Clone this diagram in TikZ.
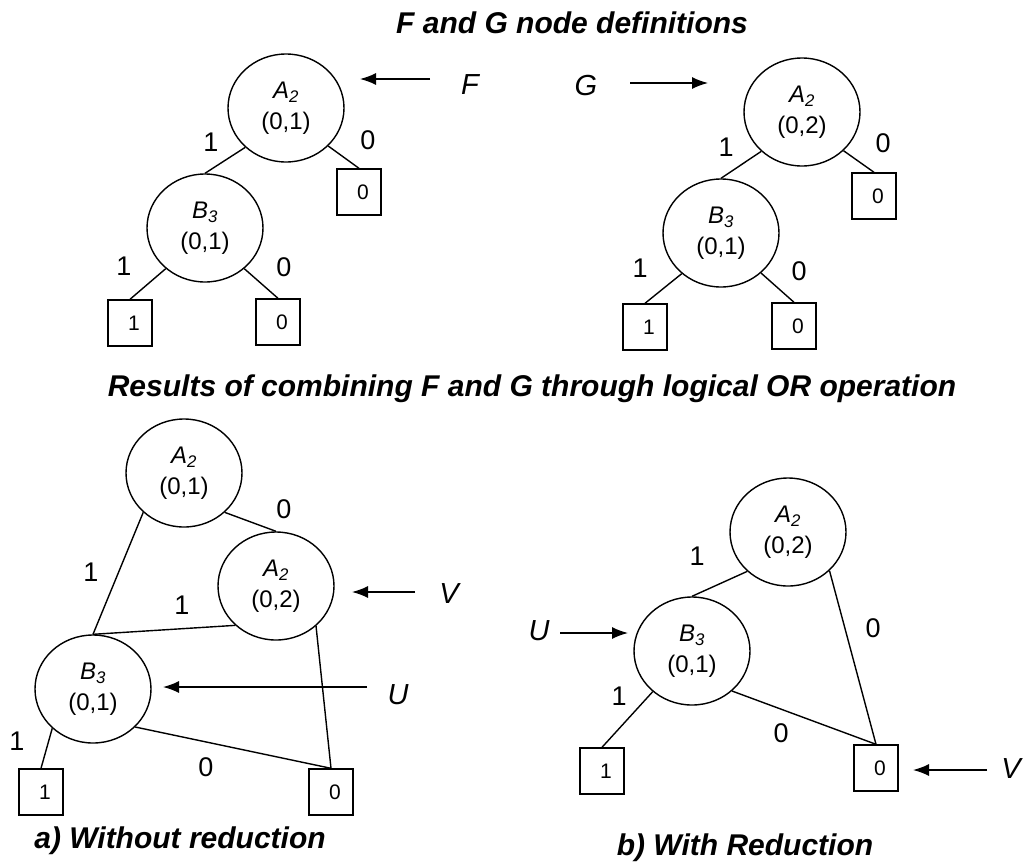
\documentclass[tikz,border=0pt]{standalone}
\usepackage{fontspec}
\setmainfont{Liberation Sans}
\usetikzlibrary{shapes.geometric,arrows.meta}

\tikzset{
  bdd/.style={draw, ellipse, line width=1.4pt, minimum width=116pt, minimum height=108pt,
    inner sep=0pt, align=center, font=\fontsize{24}{31}\selectfont},
  term/.style={draw, rectangle, line width=1.4pt, minimum width=44pt, minimum height=46pt,
    inner sep=0pt, font=\fontsize{21}{24}\selectfont},
  link/.style={line width=1.4pt},
  elabel/.style={inner sep=0pt, font=\fontsize{27}{30}\selectfont},
  ptrtext/.style={inner sep=0pt, anchor=base, font=\fontsize{29}{30}\selectfont\itshape},
  ptr/.style={line width=1.4pt, -{Latex[length=16pt,width=12pt]}},
  heading/.style={inner sep=0pt, anchor=base, font=\fontsize{30}{32}\selectfont\bfseries\itshape}
}
\newcommand{\vlabel}[2]{\textit{#1\textsubscript{#2}}}
\newcommand{\tval}[1]{\hspace*{8pt}#1}

\begin{document}
\begin{tikzpicture}[x=1pt,y=-1pt]
\useasboundingbox[fill=white] (0,0) rectangle (1030,865);

% headings and captions
\node[heading] (h1) at (572,33) {F and G node definitions};
\node[heading] (h2) at (532,396) {Results of combining F and G through logical OR operation};
\node[heading] (capa) at (180,848) {a) Without reduction};
\node[heading] (capb) at (745,855) {b) With Reduction};

% ---- F ----
\node[bdd] (fA) at (286,108) {\vlabel{A}{2}\\(0,1)};
\node[bdd] (fB) at (205,228) {\vlabel{B}{3}\\(0,1)};
\node[term] (fT0a) at (359,192) {\tval{0}};
\node[term] (fT0b) at (278,322) {\tval{0}};
\node[term] (fT1) at (130,323) {\tval{1}};
\draw[link] (fA.224) -- (fB.north);
\draw[link] (fA.318) -- (fT0a.north);
\draw[link] (fB.226) -- (fT1.north);
\draw[link] (fB.314) -- (fT0b.north);
\node[elabel] (fl1) at (211,142) {1};
\node[elabel] (fl2) at (368,140) {0};
\node[elabel] (fl3) at (124,266) {1};
\node[elabel] (fl4) at (284,267) {0};
\node[ptrtext] (F) at (470,94) {F};
\coordinate (fs) at (430,79);
\coordinate (fe) at (360,79);
\draw[ptr] (fs) -- (fe);

% ---- G ----
\node[bdd] (gA) at (802,112) {\vlabel{A}{2}\\(0,2)};
\node[bdd] (gB) at (721,233) {\vlabel{B}{3}\\(0,1)};
\node[term] (gT0a) at (874,196) {\tval{0}};
\node[term] (gT1) at (645,327) {\tval{1}};
\node[term] (gT0b) at (794,326) {\tval{0}};
\draw[link] (gA.224) -- (gB.north);
\draw[link] (gA.317) -- (gT0a.north);
\draw[link] (gB.226) -- (gT1.north);
\draw[link] (gB.315) -- (gT0b.north);
\node[elabel] (gl1) at (726,147) {1};
\node[elabel] (gl2) at (883,143) {0};
\node[elabel] (gl3) at (640,268) {1};
\node[elabel] (gl4) at (799,271) {0};
\node[ptrtext] (G) at (586,95) {G};
\coordinate (gs) at (630,83);
\coordinate (ge) at (708,83);
\draw[ptr] (gs) -- (ge);

% ---- a) without reduction ----
\node[bdd] (aA) at (184,473) {\vlabel{A}{2}\\(0,1)};
\node[bdd] (aA2) at (276,586) {\vlabel{A}{2}\\(0,2)};
\node[bdd] (aB) at (93,689) {\vlabel{B}{3}\\(0,1)};
\node[term] (aT1) at (41,792) {\tval{1}};
\node[term] (aT0) at (331,792) {\tval{0}};
\draw[link] (aA.224) -- (aB.north);
\draw[link] (aA.316) -- (aA2.north);
\draw[link] (aA2.224) -- (aB.north);
\draw[link] (aA2.315) -- (aT0.north);
\draw[link] (aB.318) -- (aT0.north);
\draw[link] (aB.224) -- (aT1.north);
\node[elabel] (al1) at (91,572) {1};
\node[elabel] (al2) at (284,509) {0};
\node[elabel] (al3) at (182,605) {1};
\node[elabel] (al4) at (17,741) {1};
\node[elabel] (al5) at (206,767) {0};
\node[ptrtext] (aV) at (449,603) {V};
\coordinate (avs) at (415,592);
\coordinate (ave) at (352,592);
\draw[ptr] (avs) -- (ave);
\node[ptrtext] (aU) at (398,704) {U};
\coordinate (aus) at (367,687);
\coordinate (aue) at (163,687);
\draw[ptr] (aus) -- (aue);

% ---- b) with reduction ----
\node[bdd] (bA) at (788,532) {\vlabel{A}{2}\\(0,2)};
\node[bdd] (bB) at (692,651) {\vlabel{B}{3}\\(0,1)};
\node[term] (bT1) at (602,771) {\tval{1}};
\node[term] (bT0) at (876,768) {\tval{0}};
\draw[link] (bA.224) -- (bB.north);
\draw[link] (bA.317) -- (bT0.north);
\draw[link] (bB.315) -- (bT0.north);
\draw[link] (bB.226) -- (bT1.north);
\node[elabel] (bl1) at (697,556) {1};
\node[elabel] (bl2) at (873,628) {0};
\node[elabel] (bl3) at (619,696) {1};
\node[elabel] (bl4) at (781,733) {0};
\node[ptrtext] (bU) at (539,640) {U};
\coordinate (bus) at (560,633);
\coordinate (bue) at (628,633);
\draw[ptr] (bus) -- (bue);
\node[ptrtext] (bV) at (1011,778) {V};
\coordinate (bvs) at (987,770);
\coordinate (bve) at (913,770);
\draw[ptr] (bvs) -- (bve);
\end{tikzpicture}
\end{document}
